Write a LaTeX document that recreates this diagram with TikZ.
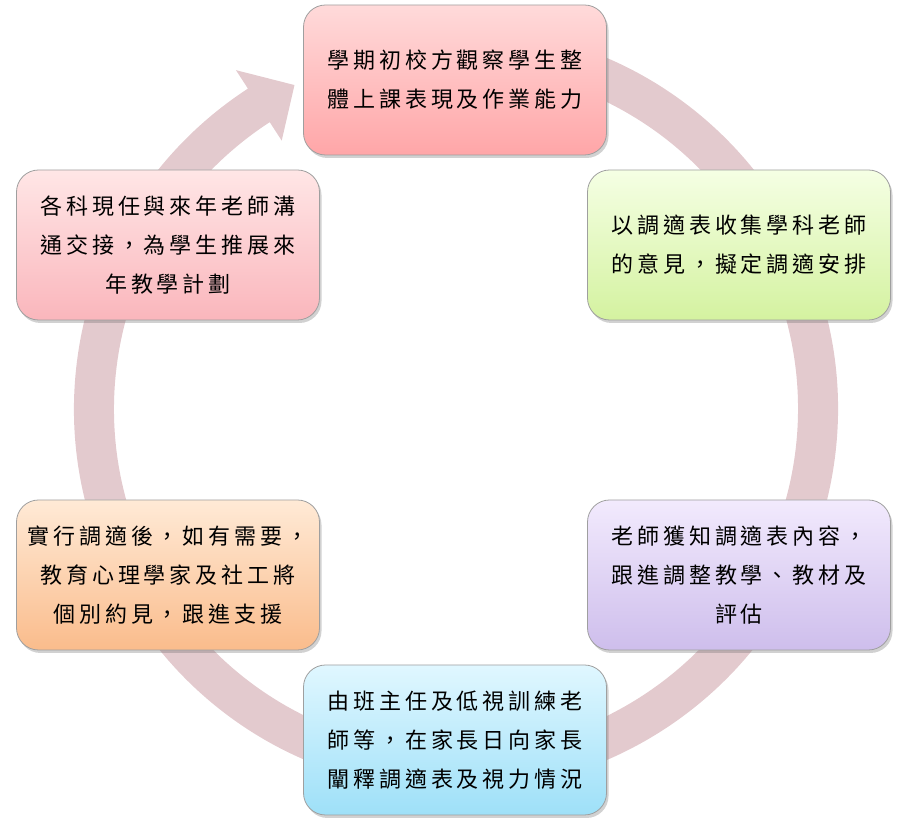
\documentclass[tikz,border=0pt]{standalone}
\usepackage{fontspec}
\newfontfamily\cjk[LetterSpace=18]{Noto Sans CJK TC}
\usetikzlibrary{positioning,shadows}
\usepackage{xcolor}
\definecolor{cring}{RGB}{227,202,206}
\definecolor{credA}{RGB}{255,218,218}
\definecolor{credB}{RGB}{255,166,168}
\definecolor{cgreenA}{RGB}{245,255,228}
\definecolor{cgreenB}{RGB}{212,242,160}
\definecolor{cpurpleA}{RGB}{242,234,253}
\definecolor{cpurpleB}{RGB}{206,190,236}
\definecolor{cblueA}{RGB}{224,247,255}
\definecolor{cblueB}{RGB}{158,224,248}
\definecolor{corangeA}{RGB}{255,234,214}
\definecolor{corangeB}{RGB}{250,188,140}
\definecolor{cpinkA}{RGB}{255,230,230}
\definecolor{cpinkB}{RGB}{250,182,188}
\begin{document}
\begin{tikzpicture}[x=1pt, y=1pt,
    box/.style={draw=gray!75, rounded corners=22pt, minimum width=303pt, minimum height=150pt,
                line width=0.8pt, align=center, inner sep=0pt,
                font=\cjk\fontsize{22}{39}\selectfont,
                drop shadow={shadow xshift=2pt, shadow yshift=-3pt, opacity=0.3, fill=black!60}},
  ]
  \useasboundingbox (0,0) rectangle (900,834);
  % ring arrow behind the boxes
  \coordinate (hub) at (456,425);
  \fill[cring] ([shift={(80:382)}]hub) arc[start angle=80, end angle=-237, radius=382]
    -- ([shift={(123:404)}]hub) -- ([shift={(116.5:362)}]hub)
    -- ([shift={(123:320)}]hub) -- ([shift={(123:342)}]hub)
    arc[start angle=-237, end angle=80, radius=342] -- cycle;
  % steps
  \node[box, top color=credA, bottom color=credB] (observe) at (455,754) {
    學期初校方觀察學生整\\體上課表現及作業能力};
  \node[box, top color=cgreenA, bottom color=cgreenB] (collect) at (739,589) {
    以調適表收集學科老師\\的意見，擬定調適安排};
  \node[box, top color=cpurpleA, bottom color=cpurpleB] (teachers) at (739,259) {
    老師獲知調適表內容，\\跟進調整教學、教材及\\評估};
  \node[box, top color=cblueA, bottom color=cblueB] (parents) at (455,94) {
    由班主任及低視訓練老\\師等，在家長日向家長\\闡釋調適表及視力情況};
  \node[box, top color=corangeA, bottom color=corangeB] (support) at (168,259) {
    實行調適後，如有需要，\\教育心理學家及社工將\\個別約見，跟進支援};
  \node[box, top color=cpinkA, bottom color=cpinkB] (handover) at (168,589) {
    各科現任與來年老師溝\\通交接，為學生推展來\\年教學計劃};
\end{tikzpicture}
\end{document}
